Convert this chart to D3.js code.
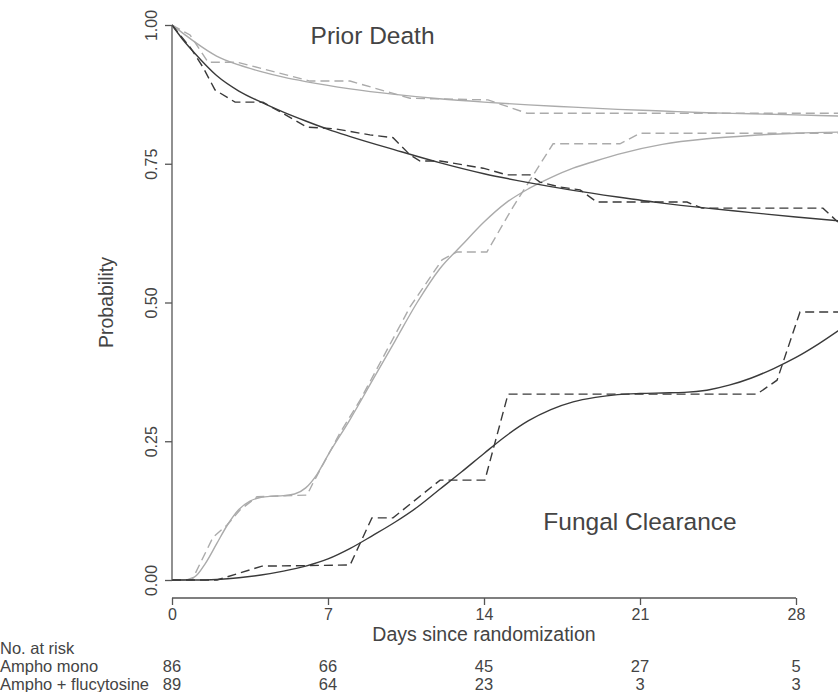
<!DOCTYPE html>
<html>
<head>
<meta charset="utf-8">
<script src="https://cdn.jsdelivr.net/npm/d3@7"></script>
<style>
  html, body { margin: 0; padding: 0; background: #fff; }
  svg { display: block; font-family: "Liberation Sans", Arial, Helvetica, sans-serif; }
</style>
</head>
<body>
<svg id="chart" width="838" height="692"></svg>
<script>
// ---------- data ----------
const xTicks = [0, 7, 14, 21, 28];
const yTicks = [0, 0.25, 0.5, 0.75, 1];
const riskGroups = ["Ampho mono", "Ampho + flucytosine"];
const riskMono = [86, 66, 45, 27, 5];
const riskCombo = [89, 64, 23, 3, 3];

// Prior death – Ampho mono (dark)
const deathMonoModelDays = [0, 0.5, 1, 2, 3, 4, 5, 6, 7, 8, 10, 12, 14, 16, 18, 20, 22, 24, 26, 28, 30];
const deathMonoModelProb = [1.000, 0.973, 0.950, 0.909, 0.881, 0.861, 0.843, 0.827, 0.812, 0.799, 0.775, 0.752, 0.732, 0.716, 0.702, 0.690, 0.679, 0.670, 0.662, 0.654, 0.647];
const deathMonoKMDays = [0, 0.81, 1.39, 1.93, 2.83, 4.08, 6.06, 7.31, 8.88, 9.92, 10.68, 11.13, 12.03, 13.96, 15.03, 16.06, 16.51, 17.41, 18.31, 19.07, 23.11, 23.78, 29.21, 29.88];
const deathMonoKMProb = [1.000, 0.960, 0.924, 0.883, 0.861, 0.861, 0.816, 0.813, 0.802, 0.797, 0.766, 0.755, 0.755, 0.742, 0.730, 0.730, 0.717, 0.708, 0.703, 0.681, 0.681, 0.670, 0.670, 0.645];

// Prior death – Ampho + flucytosine (grey)
const deathComboModelDays = [0, 0.5, 1, 2, 3, 4, 5, 6, 8, 10, 12, 14, 16, 18, 20, 22, 24, 26, 28, 30];
const deathComboModelProb = [1.000, 0.985, 0.970, 0.944, 0.928, 0.916, 0.906, 0.898, 0.885, 0.875, 0.867, 0.861, 0.856, 0.852, 0.848, 0.845, 0.842, 0.840, 0.838, 0.836];
const deathComboKMDays = [0, 0.81, 1.62, 2.92, 6.19, 7.99, 10.68, 14.18, 15.93, 30];
const deathComboKMProb = [1.000, 0.982, 0.933, 0.933, 0.899, 0.899, 0.868, 0.865, 0.841, 0.841];

// Fungal clearance – Ampho mono (dark)
const clearMonoModelDays = [0, 1, 2, 3, 4, 5, 6, 7, 8, 9, 10, 11, 12, 13, 14, 15, 16, 17, 18, 19, 20, 21, 22, 23, 24, 25, 26, 27, 28, 29, 30];
const clearMonoModelProb = [0, 0, 0.001, 0.004, 0.009, 0.016, 0.025, 0.038, 0.057, 0.080, 0.104, 0.131, 0.163, 0.195, 0.228, 0.260, 0.287, 0.307, 0.321, 0.329, 0.334, 0.336, 0.337, 0.338, 0.342, 0.351, 0.364, 0.381, 0.401, 0.425, 0.452];
const clearMonoKMDays = [0, 2.02, 4.04, 7.99, 8.97, 9.92, 12.03, 14.04, 15.08, 26.25, 27.15, 28.18, 30];
const clearMonoKMProb = [0, 0, 0.025, 0.027, 0.112, 0.112, 0.180, 0.180, 0.335, 0.335, 0.360, 0.483, 0.483];

// Fungal clearance – Ampho + flucytosine (grey)
const clearComboModelDays = [0, 0.5, 1, 1.5, 2, 2.5, 3, 3.5, 4, 4.5, 5, 5.5, 6, 6.5, 7, 8, 9, 10, 11, 12, 13, 14, 15, 16, 17, 18, 19, 20, 22, 24, 26, 28, 30];
const clearComboModelProb = [0, 0, 0.005, 0.030, 0.065, 0.100, 0.127, 0.142, 0.149, 0.151, 0.152, 0.155, 0.166, 0.190, 0.225, 0.290, 0.360, 0.430, 0.500, 0.560, 0.603, 0.645, 0.680, 0.705, 0.725, 0.742, 0.755, 0.767, 0.785, 0.795, 0.801, 0.805, 0.807];
const clearComboKMDays = [0, 0.90, 1.84, 2.47, 3.05, 3.81, 6.06, 6.33, 7.54, 8.44, 10.68, 12.12, 12.79, 14.13, 15.30, 17.10, 20.10, 21.00, 30];
const clearComboKMProb = [0, 0, 0.077, 0.099, 0.126, 0.150, 0.153, 0.175, 0.265, 0.324, 0.492, 0.577, 0.591, 0.591, 0.672, 0.786, 0.786, 0.805, 0.805];

const annotations = [
  { text: "Prior Death", day: 9, prob: 0.965 },
  { text: "Fungal Clearance", day: 21, prob: 0.09 }
];

// ---------- drawing ----------
const darkCol = "#3a3a3a";
const greyCol = "#ababab";
const textCol = "#444444";
const tickFont = "16px";
const tableFont = "16.5px";

const svg = d3.select("#chart");
const x = d3.scaleLinear().domain([0, 28]).range([172, 796]);
const y = d3.scaleLinear().domain([0, 1]).range([580, 25]);

const zip = (ds, ps) => ds.map((d, i) => [d, ps[i]]);

const series = [
  { days: deathComboModelDays, prob: deathComboModelProb, col: greyCol, dash: null, curve: d3.curveMonotoneX },
  { days: deathComboKMDays, prob: deathComboKMProb, col: greyCol, dash: "9,5", curve: d3.curveLinear },
  { days: clearComboModelDays, prob: clearComboModelProb, col: greyCol, dash: null, curve: d3.curveMonotoneX },
  { days: clearComboKMDays, prob: clearComboKMProb, col: greyCol, dash: "9,5", curve: d3.curveLinear },
  { days: deathMonoModelDays, prob: deathMonoModelProb, col: darkCol, dash: null, curve: d3.curveMonotoneX },
  { days: deathMonoKMDays, prob: deathMonoKMProb, col: darkCol, dash: "9,5", curve: d3.curveLinear },
  { days: clearMonoModelDays, prob: clearMonoModelProb, col: darkCol, dash: null, curve: d3.curveMonotoneX },
  { days: clearMonoKMDays, prob: clearMonoKMProb, col: darkCol, dash: "9,5", curve: d3.curveLinear }
];

series.forEach(s => {
  const line = d3.line().x(d => x(d[0])).y(d => y(d[1])).curve(s.curve);
  svg.append("path")
    .attr("d", line(zip(s.days, s.prob)))
    .attr("fill", "none")
    .attr("stroke", s.col)
    .attr("stroke-width", 1.4)
    .attr("stroke-dasharray", s.dash);
});

// y axis
const yAxis = svg.append("g")
  .attr("transform", "translate(172,0)")
  .call(d3.axisLeft(y).tickValues(yTicks).tickFormat(d3.format(".2f")).tickSize(7).tickPadding(0));
yAxis.select(".domain").attr("stroke", "#555").attr("stroke-width", 1.3).attr("d", "M0," + y(1) + "V" + y(0));
yAxis.selectAll(".tick line").attr("stroke", "#555").attr("stroke-width", 1.3);
yAxis.selectAll(".tick text")
  .attr("transform", "rotate(-90)")
  .attr("x", 0).attr("y", -15)
  .attr("dy", 0)
  .attr("text-anchor", "middle")
  .attr("fill", textCol)
  .style("font-size", tickFont)
  .style("font-family", "'Liberation Sans', Arial, sans-serif");

// x axis
const xAxis = svg.append("g")
  .attr("transform", "translate(0,598)")
  .call(d3.axisBottom(x).tickValues(xTicks).tickFormat(d3.format("d")).tickSize(7).tickPadding(4));
xAxis.select(".domain").attr("stroke", "#555").attr("stroke-width", 1.3).attr("d", "M" + x(0) + ",0H" + x(28));
xAxis.selectAll(".tick line").attr("stroke", "#555").attr("stroke-width", 1.3);
xAxis.selectAll(".tick text")
  .attr("fill", textCol)
  .style("font-size", tickFont)
  .style("font-family", "'Liberation Sans', Arial, sans-serif");

// axis titles
svg.append("text")
  .attr("x", x(14)).attr("y", 641)
  .attr("text-anchor", "middle")
  .attr("fill", textCol)
  .style("font-size", "19.5px")
  .text("Days since randomization");

svg.append("text")
  .attr("transform", "translate(113," + y(0.5) + ") rotate(-90)")
  .attr("text-anchor", "middle")
  .attr("fill", textCol)
  .style("font-size", "19.5px")
  .text("Probability");

// annotations
annotations.forEach(a => {
  svg.append("text")
    .attr("x", x(a.day)).attr("y", y(a.prob))
    .attr("text-anchor", "middle")
    .attr("fill", textCol)
    .style("font-size", "24.5px")
    .text(a.text);
});

// number at risk table
svg.append("text")
  .attr("x", 0).attr("y", 654)
  .attr("fill", textCol)
  .style("font-size", tableFont)
  .text("No. at risk");

[riskMono, riskCombo].forEach((row, i) => {
  const yy = 672 + i * 18;
  svg.append("text")
    .attr("x", 0).attr("y", yy)
    .attr("fill", textCol)
    .style("font-size", tableFont)
    .text(riskGroups[i]);
  svg.selectAll(null).data(row).enter().append("text")
    .attr("x", (d, j) => x(xTicks[j]))
    .attr("y", yy)
    .attr("text-anchor", "middle")
    .attr("fill", textCol)
    .style("font-size", tableFont)
    .text(d => d);
});
</script>
</body>
</html>
